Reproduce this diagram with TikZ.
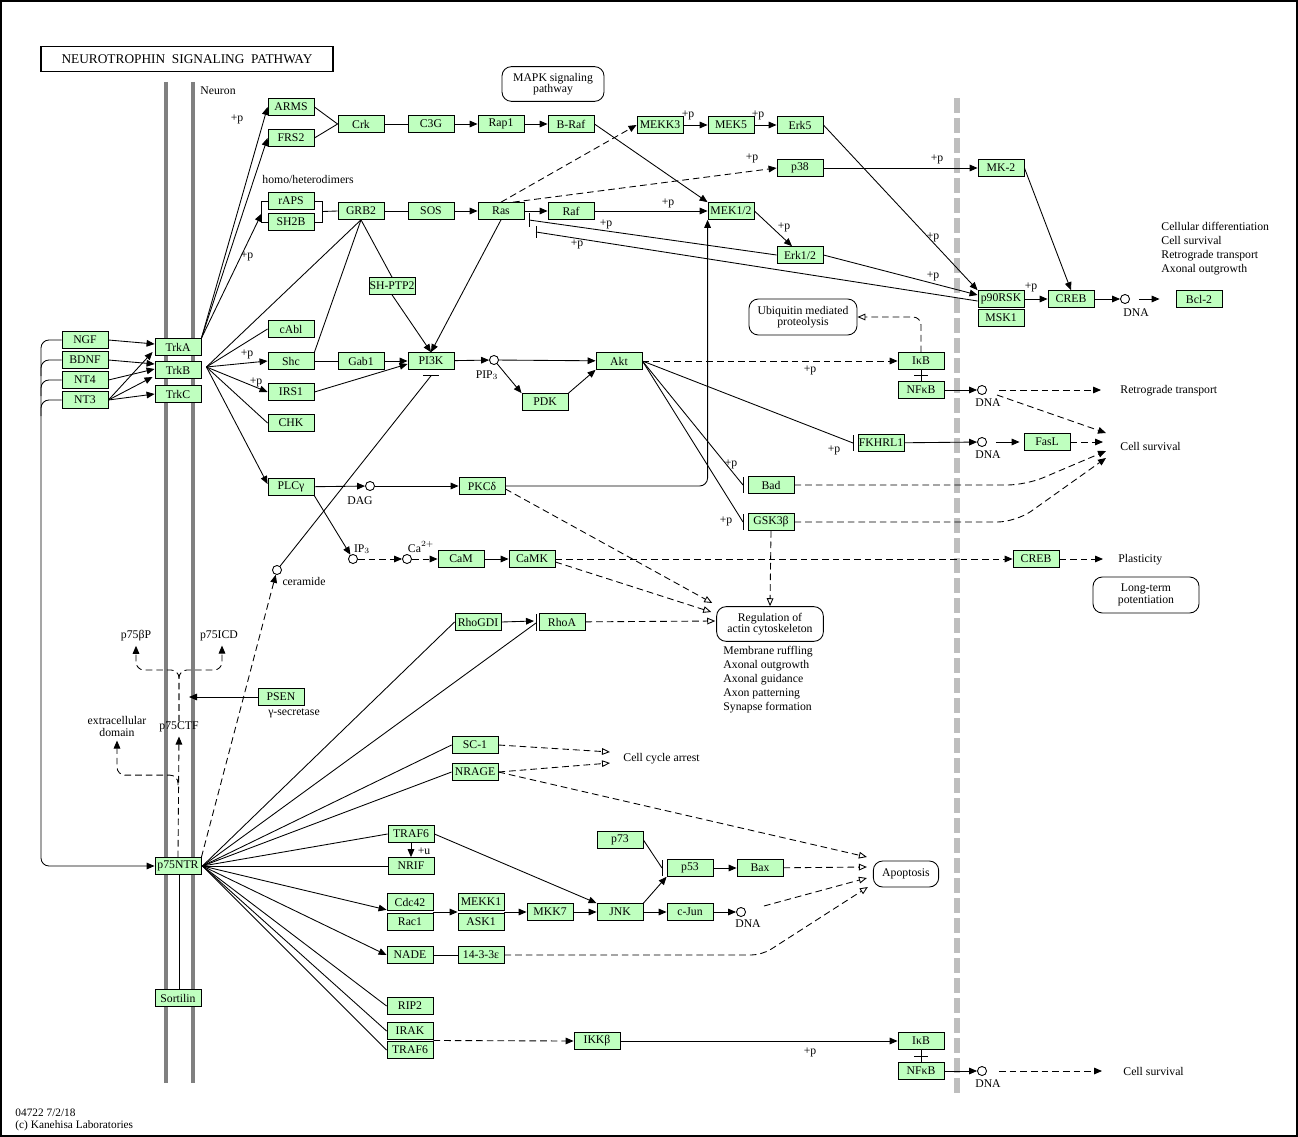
\documentclass[tikz,border=0pt]{standalone}
\usepackage{fontspec}
\setmainfont{Liberation Serif}
\usetikzlibrary{arrows.meta,calc}
\definecolor{kg}{RGB}{191,255,191}
\definecolor{memb}{RGB}{128,128,128}
\definecolor{sepc}{RGB}{190,190,190}
\begin{document}
\begin{tikzpicture}[x=0.75pt,y=-0.75pt, line width=0.65pt, font=\fontsize{8.8}{10}\selectfont,
 gene/.style={draw, fill=kg, minimum width=34.5pt, minimum height=12.6pt, inner sep=0pt, line width=0.65pt},
 cpd/.style={circle, draw, fill=white, minimum size=6.8pt, inner sep=0pt},
 mapbox/.style={draw, rounded corners=7pt, align=center, inner sep=0pt, font=\fontsize{8.8}{8.6}\selectfont},
 act/.style={-{Triangle[length=6pt,width=5pt]}},
 dsh/.style={dash pattern=on 5pt off 3pt},
 dact/.style={act, dsh},
 oact/.style={-{Triangle[open,length=6pt,width=5pt]}, dsh},
 lbl/.style={inner sep=0pt},
 txt/.style={inner sep=0pt, align=left, anchor=west, font=\fontsize{8.8}{10.5}\selectfont}
]
\useasboundingbox (0,0) rectangle (1298,1137);
\draw[line width=1.5pt] (1,1) rectangle (1296.5,1135.5);
% membranes
\draw[memb, line width=3pt] (166,82) -- (166,1083);
\draw[memb, line width=3pt] (193,82) -- (193,1083);
\draw[sepc, line width=4pt, dash pattern=on 11pt off 4pt] (957,98) -- (957,1095);
% title
\node[draw, line width=1.1pt, minimum width=219pt, minimum height=18.5pt, inner sep=0pt, font=\fontsize{10}{11}\selectfont] (title) at (187,59) {NEUROTROPHIN\ \ SIGNALING\ \ PATHWAY};
\node[txt] (neuron) at (200,91) {Neuron};
\node[txt] (homo) at (262,179) {homo/heterodimers};

% genes
\node[gene] (ARMS) at (291,107) {ARMS};
\node[gene] (FRS2) at (291,138) {FRS2};
\node[gene] (rAPS) at (291,201) {rAPS};
\node[gene] (SH2B) at (291,222) {SH2B};
\node[gene] (cAbl) at (291,329) {cAbl};
\node[gene] (Shc) at (291,361) {Shc};
\node[gene] (IRS1) at (291,392) {IRS1};
\node[gene] (CHK) at (291,423) {CHK};
\node[gene] (PLCg) at (291,487) {PLCγ};
\node[gene] (NGF) at (85,340) {NGF};
\node[gene] (BDNF) at (85,360) {BDNF};
\node[gene] (NT4) at (85,380) {NT4};
\node[gene] (NT3) at (85,400) {NT3};
\node[gene] (TrkA) at (178,347) {TrkA};
\node[gene] (TrkB) at (178,370) {TrkB};
\node[gene] (TrkC) at (178,394) {TrkC};
\node[gene] (Crk) at (361,124) {Crk};
\node[gene] (C3G) at (431,124) {C3G};
\node[gene] (Rap1) at (501,124) {Rap1};
\node[gene] (BRaf) at (571,124) {B-Raf};
\node[gene] (GRB2) at (361,211) {GRB2};
\node[gene] (SOS) at (431,211) {SOS};
\node[gene] (Ras) at (501,211) {Ras};
\node[gene] (Raf) at (571,211) {Raf};
\node[gene] (SHPTP2) at (392,286) {SH-PTP2};
\node[gene] (MEKK3) at (660,125) {MEKK3};
\node[gene] (MEK5) at (731,125) {MEK5};
\node[gene] (Erk5) at (800,125) {Erk5};
\node[gene] (p38) at (800,168) {p38};
\node[gene] (MK2) at (1001,168) {MK-2};
\node[gene] (MEK12) at (731,211) {MEK1/2};
\node[gene] (Erk12) at (800,255) {Erk1/2};
\node[gene] (p90RSK) at (1001,299) {p90RSK};
\node[gene] (MSK1) at (1001,318) {MSK1};
\node[gene] (CREB) at (1071,299) {CREB};
\node[cpd] (dnaA) at (1125,299) {};
\node[gene] (Bcl2) at (1199,299) {Bcl-2};
\node[mapbox, minimum width=81pt, minimum height=27pt] (Ubiq) at (803,317) {Ubiquitin mediated\\proteolysis};
\node[mapbox, minimum width=76.5pt, minimum height=26pt] (MAPK) at (553,84) {MAPK signaling\\pathway};
\node[gene] (Gab1) at (361,361) {Gab1};
\node[gene] (PI3K) at (431,361) {PI3K};
\node[cpd] (pip3) at (494,360) {};
\node[gene] (PDK) at (545,402) {PDK};
\node[gene] (Akt) at (619,361) {Akt};
\node[gene] (IkB) at (921,361) {IκB};
\node[gene] (NFkB) at (921,390) {NFκB};
\node[cpd] (dnaB) at (982,390) {};
\node[gene] (FKHRL1) at (881,443) {FKHRL1};
\node[cpd] (dnaC) at (982,442) {};
\node[gene] (FasL) at (1047,442) {FasL};
\node[gene] (Bad) at (771,485) {Bad};
\node[gene] (GSK3b) at (771,522) {GSK3β};
\node[gene] (PKCd) at (482,486) {PKCδ};
\node[cpd] (dag) at (370,486) {};
\node[cpd] (ip3) at (353,559) {};
\node[cpd] (ca) at (407,559) {};
\node[gene] (CaM) at (461,559) {CaM};
\node[gene] (CaMK) at (532,559) {CaMK};
\node[gene] (CREBb) at (1036,559) {CREB};
\node[mapbox, minimum width=79.5pt, minimum height=27pt] (LTP) at (1146,595) {Long-term\\potentiation};
\node[mapbox, minimum width=80pt, minimum height=26pt] (Reg) at (770,624) {Regulation of\\actin cytoskeleton};
\node[cpd] (cer) at (277,570) {};
\node[gene] (RhoGDI) at (478,622) {RhoGDI};
\node[gene] (RhoA) at (562,622) {RhoA};
\node[gene] (PSEN) at (281,697) {PSEN};
\node[gene] (p75NTR) at (178,866) {p75NTR};
\node[gene] (Sortilin) at (178,998) {Sortilin};
\node[gene] (SC1) at (475,745) {SC-1};
\node[gene] (NRAGE) at (475,772) {NRAGE};
\node[gene] (TRAF6) at (411,834) {TRAF6};
\node[gene] (NRIF) at (411,866) {NRIF};
\node[gene] (p73) at (620,840) {p73};
\node[gene] (p53) at (690,868) {p53};
\node[gene] (Bax) at (760,868) {Bax};
\node[mapbox, minimum width=49pt, minimum height=19.5pt] (Apop) at (906,874) {Apoptosis};
\node[gene] (Cdc42) at (410,902) {Cdc42};
\node[gene] (Rac1) at (410,922) {Rac1};
\node[gene] (MEKK1) at (481,902) {MEKK1};
\node[gene] (ASK1) at (481,922) {ASK1};
\node[gene] (MKK7) at (550,912) {MKK7};
\node[gene] (JNK) at (620,912) {JNK};
\node[gene] (cJun) at (690,912) {c-Jun};
\node[cpd] (dnaD) at (741,912) {};
\node[gene] (NADE) at (410,955) {NADE};
\node[gene] (YWHAE) at (481,955) {14-3-3ε};
\node[gene] (RIP2) at (410,1006) {RIP2};
\node[gene] (IRAK) at (410,1031) {IRAK};
\node[gene] (TRAF6b) at (410,1050) {TRAF6};
\node[gene] (IKKb) at (597,1041) {IKKβ};
\node[gene] (IkBb) at (921,1041) {IκB};
\node[gene] (NFkBb) at (921,1071) {NFκB};
\node[cpd] (dnaE) at (982,1071) {};

% small texts
\node[lbl] (tDNAa) at (1136,313) {DNA};
\node[lbl] (tDNAb) at (988,403) {DNA};
\node[lbl] (tDNAc) at (988,455) {DNA};
\node[lbl] (tDNAd) at (748,924) {DNA};
\node[lbl] (tDNAe) at (988,1084) {DNA};
\node[lbl] (tPIP) at (487,375) {PIP$_3$};
\node[lbl] (tDAG) at (360,501) {DAG};
\node[lbl] (tIP3) at (362,549) {IP$_3$};
\node[lbl] (tCa) at (421,547) {Ca$^{2+}$};
\node[lbl] (tcer) at (304,581) {ceramide};
\node[lbl] (p75bp) at (136,636) {p75βP};
\node[lbl] (p75icd) at (219,636) {p75ICD};
\node[lbl, align=center, font=\fontsize{8.8}{9}\selectfont] (ecd) at (117,726) {extracellular\\domain};
\node[lbl] (ctf) at (179,727) {p75CTF};
\node[lbl] (tgs) at (294,713) {γ-secretase};
\node[lbl] (tu) at (424,851) {+u};
\node[txt] (memtxt) at (723,680) {Membrane ruffling\\Axonal outgrowth\\Axonal guidance\\Axon patterning\\Synapse formation};
\node[txt] (cctxt) at (623,759) {Cell cycle arrest};
\node[txt] (rttxt) at (1120,391) {Retrograde transport};
\node[txt] (cstxt) at (1120,446) {Cell survival};
\node[txt] (pltxt) at (1118,560) {Plasticity};
\node[txt] (cs2txt) at (1123,1071) {Cell survival};
\node[txt] (cdtxt) at (1161,249) {Cellular differentiation\\Cell survival\\Retrograde transport\\Axonal outgrowth};
\node[txt, font=\fontsize{8.5}{9}\selectfont] (foot) at (15,1120) {04722 7/2/18\\(c) Kanehisa Laboratories};
% +p labels
\foreach \x/\y in {237/119, 247/256, 247/354, 256/382, 688/115, 758/115, 752/158, 937/159, 668/203, 784/227, 606/224, 577/244, 933/237, 933/276, 1031/287, 810/370, 834/450, 731/464, 726/521, 810/1052}
  \node[lbl] at (\x,\y) {+p};

% ligands -> Trk
\draw[act] (NGF.east) -- ($(TrkA.west)+(0,-3)$);
\draw[act] (NT3.east) -- ($(TrkA.west)+(-2,5)$);
\draw[act] (BDNF.east) -- ($(TrkB.west)+(0,-6)$);
\draw[act] (NT4.east) -- ($(TrkB.west)+(0,-1)$);
\draw[act] (NT3.east) -- ($(TrkB.west)+(-2,7)$);
\draw[act] (NT3.east) -- (TrkC.west);
\draw[act, rounded corners=6pt] (NGF.west) -- (41,340) -- (41,866) -- (p75NTR.west);
\draw[rounded corners=6pt] (BDNF.west) -- (41,360) -- (41,376);
\draw[rounded corners=6pt] (NT4.west) -- (41,380) -- (41,396);
\draw[rounded corners=6pt] (NT3.west) -- (41,400) -- (41,416);

% Trk fans
\coordinate (brL) at ($(rAPS.west)!0.6!(SH2B.west)+(-6,0)$);
\draw[act] (TrkA.north east) -- (ARMS.west);
\draw[act] (TrkA.north east) -- (FRS2.west);
\draw[act] (TrkA.north east) -- (brL);
\coordinate (trkBo) at ($(TrkB.east)+(5,-3)$);
\draw (trkBo) -- (GRB2.south);
\draw (trkBo) -- (cAbl.west);
\draw[act] (trkBo) -- (Shc.west);
\draw[act] (trkBo) -- (IRS1.west);
\draw (trkBo) -- (CHK.west);
\draw[act] (trkBo) -- ($(PLCg.west)+(0,-3)$);
\draw (rAPS.west) -- ++(-6,0) |- (SH2B.west);
\draw (rAPS.east) -- ++(8,0) |- (SH2B.east);
\draw ($(rAPS.east)!0.5!(SH2B.east)+(8,0)$) -- (GRB2.west);

% MAPK cascade
\draw (ARMS.east) -- (Crk.west);
\draw (FRS2.east) -- (Crk.west);
\draw (Crk) -- (C3G);
\draw[act] (C3G) -- (Rap1);
\draw[act] (Rap1) -- (BRaf);
\draw[act] (BRaf.east) -- (MEK12.north west);
\draw (GRB2) -- (SOS);
\draw[act] (SOS) -- (Ras);
\draw[act] (Ras) -- (Raf);
\draw[act] (Raf) -- (MEK12);
\draw (GRB2.south) -- (Shc.north east);
\draw (GRB2.south) -- (SHPTP2.north);
\draw[act] (SHPTP2.south) -- (PI3K.north);
\draw[act] (Ras.south) -- (PI3K.north);
\draw[dact] (Ras.north) -- (MEKK3.west);
\draw[dact] ($(Ras.north)+(12,0)$) -- (p38.west);
\draw[act] (MEKK3) -- (MEK5);
\draw[act] (MEK5) -- (Erk5);
\draw[act] (p38) -- (MK2);
\draw[act] (MEK12.east) -- ($(Erk12.north)+(-8,0)$);
\draw[act] (Erk5.east) -- (p90RSK.north west);
\draw[act] (Erk12.east) -- ($(p90RSK.west)+(0,-4)$);
\coordinate (barA) at (529,220);
\coordinate (barB) at (536,232);
\draw (Erk12.west) -- (barA);
\draw (barA) ++(0,-7) -- ++(0,14);
\draw ($(p90RSK.west)+(0,2)$) -- (barB);
\draw (barB) ++(0,-6) -- ++(0,12);
\draw[act] (MK2.east) -- (CREB.north);
\draw[act] (p90RSK) -- (CREB);
\draw[act] (CREB) -- (dnaA);
\draw[act] ($(dnaA.east)+(9,0)$) -- ($(Bcl2.west)+(-16,0)$);

% PI3K / Akt
\draw (Shc) -- (Gab1);
\draw[act] (Gab1) -- (PI3K);
\draw[act] (IRS1.east) -- ($(PI3K.west)+(0,3)$);
\draw[act] (PI3K) -- (pip3);
\draw[act] (pip3) -- (Akt);
\draw[act] (pip3) -- (PDK.north west);
\draw[act] (PDK.north east) -- (Akt.south west);
\coordinate (pibar) at ($(PI3K.south)+(0,6)$);
\draw (cer) -- (pibar);
\draw (pibar) ++(-8,0) -- ++(16,0);
\draw[dact] (p75NTR.north east) -- (cer);
\draw[dact] (Akt) -- (IkB);
\coordinate (fkbar) at (853,443);
\coordinate (badbar) at (743,485);
\coordinate (gskbar) at (743,522);
\draw (Akt.east) -- (fkbar);
\draw (fkbar) ++(0,-8) -- ++(0,16);
\draw (Akt.east) -- (badbar);
\draw (badbar) ++(0,-8) -- ++(0,16);
\draw (Akt.east) -- (gskbar);
\draw (gskbar) ++(0,-8) -- ++(0,16);
\draw (IkB.south) -- (NFkB.north);
\draw ($(IkB.south)!0.5!(NFkB.north)+(-7,0)$) -- ++(14,0);
\draw[oact, rounded corners=6pt] (IkB.north) |- (Ubiq.east);
\draw[act] (NFkB) -- (dnaB);
\coordinate (retro) at (1101,390);
\coordinate (cs1) at (1106,433);
\coordinate (cs2) at (1103,442);
\coordinate (cs3) at (1106,451);
\coordinate (cs4) at (1106,458);
\draw[dact] ($(dnaB.east)+(12,0)$) -- (retro);
\draw[dact] ($(dnaB.east)+(10,5)$) -- (cs1);
\draw[act] (FKHRL1) -- (dnaC);
\draw[act] ($(dnaC.east)+(9,0)$) -- ($(FasL.west)+(-4,0)$);
\draw[dact] (FasL) -- (cs2);
\draw[dact, rounded corners=14pt] (Bad.east) -- (1026,485) -- (cs3);
\draw[dact, rounded corners=14pt] (GSK3b.east) -- (1016,522) -- (cs4);
\draw[oact] (GSK3b.south) -- (Reg.north);

% PLCg branch
\draw[act] (PLCg) -- (dag);
\draw[act] (dag) -- (PKCd);
\draw[act, rounded corners=6pt] (PKCd.east) -| ($(MEK12.south west)+(0,0)$);
\draw[act] (PLCg.south east) -- (ip3);
\draw[dact] (ip3) -- (ca);
\draw[dact] (ca) -- (CaM);
\draw[act] (CaM) -- (CaMK);
\draw[dact] (CaMK) -- (CREBb);
\coordinate (plast) at (1103,559);
\draw[dact] (CREBb) -- (plast);
\draw[oact] ($(PKCd.east)+(0,3)$) -- ($(Reg.west)+(-4,-21)$);
\draw[oact] ($(CaMK.east)+(0,3)$) -- ($(Reg.west)+(-5,-12)$);
\draw[oact] (RhoA) -- ($(Reg.west)+(-1,-3)$);

% p75NTR processing
\draw[dact] (p75NTR.north) -- ($(ctf.south)+(0,4)$);
\draw[dact, rounded corners=6pt] ($(p75NTR.north)+(0,-72)$) -- ($(p75NTR.north)+(0,-82)$) -| ($(ecd.south)+(0,4)$);
\draw[dact, rounded corners=6pt] (ctf.north) -- (179,670) -| ($(p75bp.south)+(0,4)$);
\draw[dact, rounded corners=6pt] (ctf.north) -- (179,670) -| ($(p75icd.south)+(3,4)$);
\coordinate (psenT) at (189,697);
\draw[act] (PSEN.west) -- (psenT);
\draw ($(p75NTR.south)+(1,0)$) -- ($(Sortilin.north)+(1,0)$);

% p75NTR fan
\coordinate (pfo) at ($(p75NTR.east)+(1,0)$);
\coordinate (rhoabar) at (536,623);
\draw (pfo) -- (RhoGDI.west);
\draw (pfo) -- (rhoabar);
\draw (rhoabar) ++(0,-9) -- ++(0,17);
\draw[act] (RhoGDI.east) -- ($(rhoabar)+(-2,-2)$);
\draw (pfo) -- (SC1.west);
\draw (pfo) -- (NRAGE.west);
\draw (pfo) -- (TRAF6.west);
\draw (pfo) -- (NRIF.west);
\draw[act] (pfo) -- ($(Cdc42.south west)+(0,-1)$);
\draw[act] (pfo) -- (NADE.west);
\draw (pfo) -- (RIP2.west);
\draw (pfo) -- (IRAK.west);
\draw (pfo) -- (TRAF6b.west);
\coordinate (cca1) at (610,752);
\coordinate (cca2) at (610,763);
\draw[oact] (SC1.east) -- (cca1);
\draw[oact] (NRAGE.east) -- (cca2);
\draw[oact] (NRAGE.east) -- ($(Apop.west)+(-6,-17)$);
\draw[act] (TRAF6.south) -- (NRIF.north);
\draw[act] (TRAF6.east) -- (JNK.north west);
\coordinate (p53bar) at (662,868);
\draw (p73.east) -- (p53bar);
\draw (p53bar) ++(0,-8) -- ++(0,16);
\draw[act] (p53) -- (Bax);
\draw[oact] (Bax) -- ($(Apop.west)+(-6,-7)$);
\draw[act] (JNK.north east) -- (p53.south west);
\draw[act] ($(Cdc42.east)!0.5!(Rac1.east)$) -- ($(MEKK1.west)!0.5!(ASK1.west)$);
\draw[act] ($(MEKK1.east)!0.5!(ASK1.east)$) -- (MKK7.west);
\draw[act] (MKK7) -- (JNK);
\draw[act] (JNK) -- (cJun);
\draw[act] (cJun) -- (dnaD);
\draw[oact] ($(dnaD.east)+(18,-6)$) -- ($(Apop.west)+(-6,4)$);
\draw (NADE) -- (YWHAE);
\draw[oact, rounded corners=8pt] (YWHAE.east) -- (762,955) -- ($(Apop.west)+(-5,13)$);
\draw[dact] ($(IRAK.east)!0.5!(TRAF6b.east)$) -- (IKKb.west);
\draw[act] (IKKb) -- (IkBb);
\draw (IkBb.south) -- (NFkBb.north);
\draw ($(IkBb.south)!0.5!(NFkBb.north)+(-7,0)$) -- ++(14,0);
\draw[act] (NFkBb) -- (dnaE);
\coordinate (cs5) at (1102,1071);
\draw[dact] ($(dnaE.east)+(12,0)$) -- (cs5);
\end{tikzpicture}
\end{document}
